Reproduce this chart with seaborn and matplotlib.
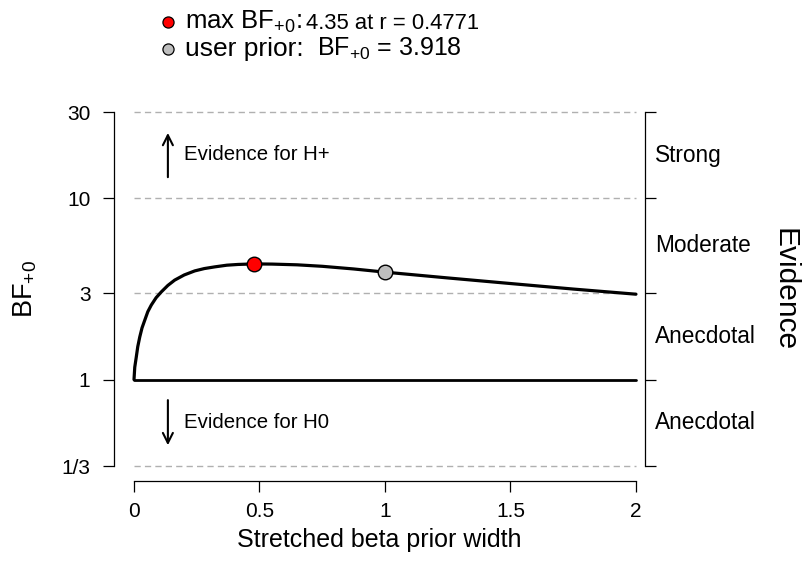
"""
Bayes factor robustness check: BF+0 as a function of the stretched beta
prior width, with evidence categories on the right.
"""

import numpy as np
import pandas as pd
import seaborn as sns
import matplotlib.pyplot as plt
from matplotlib.ticker import NullLocator

sns.set_style("ticks")
plt.rcParams["font.family"] = ["Liberation Sans", "DejaVu Sans"]
plt.rcParams["mathtext.default"] = "regular"
for key in ["text.color", "axes.labelcolor", "xtick.color", "ytick.color",
            "axes.edgecolor"]:
    plt.rcParams[key] = "black"

# curve
prior_width = [0.0, 0.003, 0.009, 0.015, 0.023, 0.032, 0.043, 0.055, 0.069,
               0.088, 0.109, 0.135, 0.162, 0.2, 0.242, 0.28, 0.322, 0.37,
               0.414, 0.4771, 0.55, 0.65, 0.75, 0.875, 1.0, 1.25, 1.5,
               1.75, 2.0]
bf_plus0 = [1.0, 1.17, 1.33, 1.52, 1.72, 1.93, 2.13, 2.37, 2.58,
            2.83, 3.05, 3.31, 3.54, 3.78, 3.98, 4.10, 4.19, 4.28,
            4.32, 4.35, 4.34, 4.30, 4.22, 4.08, 3.918, 3.64, 3.39,
            3.16, 2.96]
baseline_width = [0.0, 2.0]
baseline_bf = [1.0, 1.0]

max_r = [0.4771]
max_bf = [4.35]
user_r = [1.0]
user_bf = [3.918]

bf_ticks = [1 / 3, 1, 3, 10, 30]
bf_tick_labels = ["1/3", "1", "3", "10", "30"]
evidence_levels = [np.sqrt(10 * 30), np.sqrt(3 * 10), np.sqrt(3), np.sqrt(1 / 3)]
evidence_labels = ["Strong", "Moderate", "Anecdotal", "Anecdotal"]
x_ticks = [0, 0.5, 1, 1.5, 2]
x_tick_labels = ["0", "0.5", "1", "1.5", "2"]

curve = pd.DataFrame({"r": prior_width, "bf": bf_plus0})

fig = plt.figure(figsize=(8.04, 5.62), dpi=100)
ax = fig.add_axes([114 / 804, 1 - 466 / 562, 531 / 804, 354 / 562])
ax.set_yscale("log")
ax.set_xlim(-0.0797, 2.036)
ax.set_ylim(1 / 3, 30)

# dashed category boundaries
ax.hlines([1 / 3, 3, 10, 30], 0, 2, colors="#b0b0b0", linestyles=(0, (4.5, 3)),
          linewidth=1.0, clip_on=False, zorder=1)

sns.lineplot(data=curve, x="r", y="bf", sort=False, color="black",
             linewidth=2.3, ax=ax, zorder=3)
ax.plot(baseline_width, baseline_bf, color="black", linewidth=2.0, zorder=3)

sns.scatterplot(x=max_r, y=max_bf, color="red", edgecolor="black", s=110,
                linewidth=1.0, ax=ax, zorder=4)
sns.scatterplot(x=user_r, y=user_bf, color="#bebebe", edgecolor="black",
                s=110, linewidth=1.0, ax=ax, zorder=4)

# axes styling
ax.set_yticks(bf_ticks)
ax.set_yticklabels(bf_tick_labels)
ax.yaxis.set_minor_locator(NullLocator())
ax.set_xticks(x_ticks)
ax.set_xticklabels(x_tick_labels)
ax.tick_params(axis="both", direction="out", length=8, width=0.9,
               labelsize=15)
ax.tick_params(axis="y", right=True, labelright=False, pad=9)
ax.tick_params(axis="x", pad=7)

for side in ["left", "right", "bottom"]:
    ax.spines[side].set_linewidth(0.9)
ax.spines["top"].set_visible(False)
ax.spines["left"].set_bounds(1 / 3, 30)
ax.spines["right"].set_bounds(1 / 3, 30)
ax.spines["bottom"].set_position(("outward", 10.8))
ax.spines["bottom"].set_bounds(0, 2)

ax.set_xlabel("Stretched beta prior width", fontsize=18, labelpad=5)
ax.set_ylabel("BF$_{+0}$", fontsize=19.5, labelpad=16)

# evidence arrows
arrow = dict(arrowstyle="->", color="black", lw=1.5, mutation_scale=18,
             shrinkA=0, shrinkB=0)
ax.annotate("", xy=(0.135, 23.0), xytext=(0.135, 13.1), arrowprops=arrow)
ax.annotate("", xy=(0.135, 0.434), xytext=(0.135, 0.77), arrowprops=arrow)
ax.text(0.2, 17.4, "Evidence for H+", fontsize=14.7, va="center", ha="left")
ax.text(0.2, 0.58, "Evidence for H0", fontsize=14.7, va="center", ha="left")

# right-hand evidence labels
trans = ax.get_yaxis_transform()
for lvl, lab in zip(evidence_levels, evidence_labels):
    ax.text(1.019, lvl, lab, transform=trans, fontsize=16.3, va="center",
            ha="left")
fig.text(785 / 804, 1 - 290 / 562, "Evidence", rotation=-90, fontsize=21.5,
         va="center", ha="center")

# legend at top
for yy, face in [(22, "red"), (49, "#bebebe")]:
    fig.lines.append(plt.Line2D([168 / 804], [1 - yy / 562], marker="o",
                                markersize=8, markerfacecolor=face,
                                markeredgecolor="black", markeredgewidth=0.9,
                                transform=fig.transFigure))

renderer = fig.canvas.get_renderer()


def text_pair(y_px, first, second, size1, size2, gap_px):
    """Write two texts of different size on one baseline."""
    t = fig.text(185 / 804, 1 - y_px / 562, first, fontsize=size1,
                 va="baseline", ha="left")
    x_end = t.get_window_extent(renderer).x1 / fig.bbox.width
    fig.text(x_end + gap_px / 804, 1 - y_px / 562, second, fontsize=size2,
             va="baseline", ha="left")


text_pair(29, "max BF$_{+0}$:", "%.2f at r = %.4f" % (max_bf[0], max_r[0]),
          18.5, 15.8, 4)
text_pair(56, "user prior:", "BF$_{+0}$ = %.3f" % user_bf[0], 19, 18, 13)

fig.savefig("out.png", dpi=100)
